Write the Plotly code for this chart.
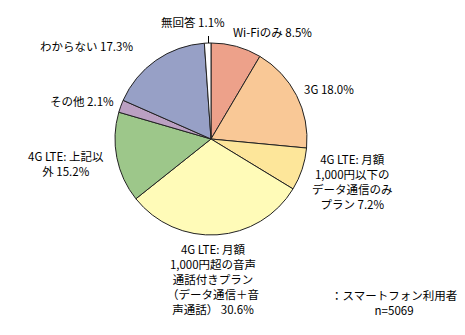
import plotly.graph_objects as go

categories = ["Wi-Fiのみ", "3G", "4G LTE: 月額1,000円以下のデータ通信のみプラン",
              "4G LTE: 月額1,000円超の音声通話付きプラン(データ通信+音声通話)",
              "4G LTE: 上記以外", "その他", "わからない", "無回答"]
values = [8.5, 18.0, 7.2, 30.6, 15.2, 2.1, 17.3, 1.1]
colors = ["#EDA18A", "#F9C896", "#FDE69A", "#FFFBB8", "#9DC78A", "#BBA0C2", "#97A0C6", "#FFFFFF"]
label_texts = [
    "Wi-Fiのみ 8.5%",
    "3G 18.0%",
    "4G LTE: 月額<br>1,000円以下の<br>データ通信のみ<br>プラン 7.2%",
    "4G LTE: 月額<br>1,000円超の音声<br>通話付きプラン<br>（データ通信＋音<br>声通話） 30.6%",
    "4G LTE: 上記以<br>外 15.2%",
    "その他 2.1%",
    "わからない 17.3%",
    "無回答 1.1%",
]
note_text = "：スマートフォン利用者<br>n=5069"

W, H = 465, 335
cx, cy, r = 211, 139, 96

fig = go.Figure(go.Pie(
    labels=categories, values=values, sort=False, direction="clockwise",
    rotation=0, textinfo="none", hoverinfo="label+percent",
    marker=dict(colors=colors, line=dict(color="#222222", width=1)),
    domain=dict(x=[(cx - r) / W, (cx + r) / W], y=[1 - (cy + r) / H, 1 - (cy - r) / H]),
    showlegend=False,
))

# label positions in pixels (center x, center y)
pos = [(272, 32), (329, 89), (352, 181), (213, 279), (66, 163), (82, 101), (86, 46), (193, 22)]
font = dict(family="Noto Sans CJK JP", size=11.5, color="#000000")
for (x, y), t in zip(pos, label_texts):
    fig.add_annotation(x=x / W, y=1 - y / H, xref="paper", yref="paper", text=t,
                       showarrow=False, xanchor="center", yanchor="middle",
                       align="center", font=font)
fig.add_annotation(x=394 / W, y=1 - 302 / H, xref="paper", yref="paper", text=note_text,
                   showarrow=False, xanchor="center", yanchor="middle", align="center", font=font)

fig.add_shape(type="line", xref="paper", yref="paper",
              x0=208.5 / W, x1=208.5 / W, y0=1 - 36 / H, y1=1 - 43 / H,
              line=dict(color="#000000", width=1))

fig.update_layout(width=W, height=H, margin=dict(l=0, r=0, t=0, b=0),
                  paper_bgcolor="white", plot_bgcolor="white")
fig.write_html("out.html")
